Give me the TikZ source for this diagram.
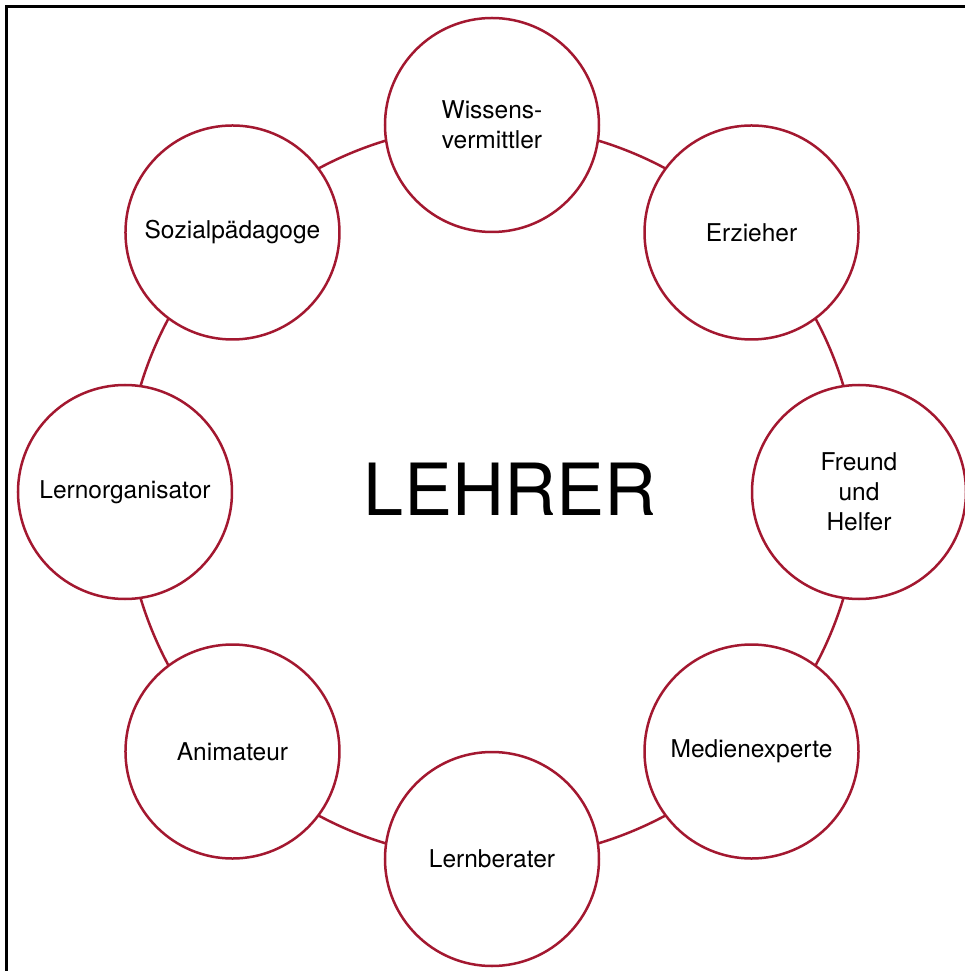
\documentclass[tikz,border=0pt]{standalone}
\usepackage{fontspec}
\setmainfont{TeX Gyre Heros}
\definecolor{rolered}{RGB}{163,24,48}
\tikzset{
    every picture/.style={
        x=1pt,y=1pt,
        role/.style={circle,draw=rolered,line width=2.5pt,fill=white,
            minimum size=214pt,inner sep=0pt,align=center,
            font=\fontsize{24.5}{30}\selectfont},
        ring/.style={draw=rolered,line width=2.5pt},
        frame/.style={draw=black,line width=3pt}
    }
}

\begin{document}
\begin{tikzpicture}
    \useasboundingbox (-492,-479) rectangle (473,492);
    \draw[frame] (-485,-490) |- (490,485);
    \coordinate (mid) at (0,0);
    \draw[ring] (mid) circle (367);
    \node (lehrer) at (18,3) {\fontsize{72}{72}\selectfont LEHRER};
    \node[role] (wissen)  at (90:367)  {Wissens-\\vermittler};
    \node[role] (erzieh)  at (45:367)  {Erzieher};
    \node[role] (freund)  at (0:367)   {Freund\\und\\Helfer};
    \node[role] (medien)  at (-45:367) {Medienexperte};
    \node[role] (berater) at (-90:367) {Lernberater};
    \node[role] (animat)  at (-135:367) {Animateur};
    \node[role] (organis) at (180:367) {Lernorganisator};
    \node[role] (sozial)  at (135:367) {Sozialpädagoge};
\end{tikzpicture}
\end{document}
